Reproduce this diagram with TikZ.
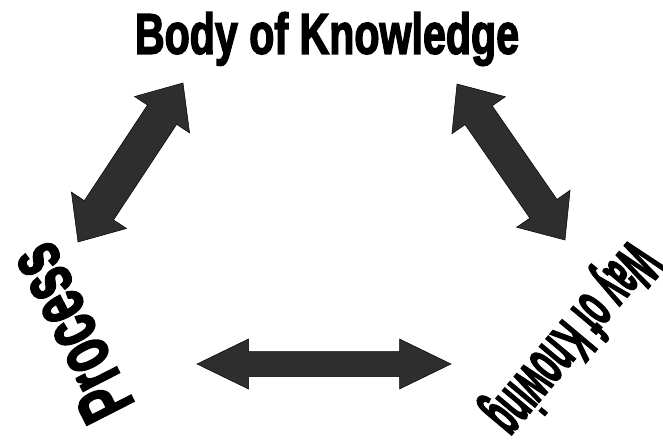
\documentclass[tikz,border=0pt]{standalone}
\usepackage{fontspec}
\usepackage{graphicx}
\setmainfont{Liberation Sans}[BoldFeatures={FakeBold=3}]
\usetikzlibrary{calc}

% Double-headed block arrow between two tips:
% #1 first tip, #2 second tip, #3 head length, #4 head half-width, #5 shaft half-width
\newcommand\twowayarrow[5]{%
  \draw[blockarrow] (#1)
    -- ($(#1)!#3!(#2)!#4!90:(#2)$) -- ($(#1)!#3!(#2)!#5!90:(#2)$)
    -- ($(#2)!#3!(#1)!#5!-90:(#1)$) -- ($(#2)!#3!(#1)!#4!-90:(#1)$)
    -- (#2)
    -- ($(#2)!#3!(#1)!#4!90:(#1)$) -- ($(#2)!#3!(#1)!#5!90:(#1)$)
    -- ($(#1)!#3!(#2)!#5!-90:(#2)$) -- ($(#1)!#3!(#2)!#4!-90:(#2)$)
    -- cycle;}

\begin{document}
\begin{tikzpicture}[x=1pt,y=-1pt,
  wordart/.style={inner sep=0pt, font=\bfseries},
  blockarrow/.style={fill=black!82, draw=black, line width=0.5pt, line join=miter}]
  \useasboundingbox (0,0) rectangle (663,439);

  % the three terms
  \node[wordart] (bok) at (327,39)
    {\scalebox{0.735}[1.02]{\fontsize{56}{56}\selectfont Body of Knowledge}};
  \node[wordart, rotate=117] (proc) at (70,333)
    {\scalebox{0.63}[1]{\fontsize{76}{76}\selectfont Process}};
  \node[wordart, rotate=230] (wok) at (570,337)
    {\scalebox{0.45}[1]{\fontsize{66}{66}\selectfont Way of Knowing}};

  % arrow tips
  \coordinate (lA) at (78,242);  \coordinate (lB) at (183,83);
  \coordinate (rA) at (457,84);  \coordinate (rB) at (565,240);
  \coordinate (bA) at (197,364); \coordinate (bB) at (451,364);

  \twowayarrow{lA}{lB}{38pt}{33pt}{17.5pt}
  \twowayarrow{rA}{rB}{38pt}{32.5pt}{16.5pt}
  \twowayarrow{bA}{bB}{51.5pt}{25pt}{12.5pt}
\end{tikzpicture}
\end{document}
